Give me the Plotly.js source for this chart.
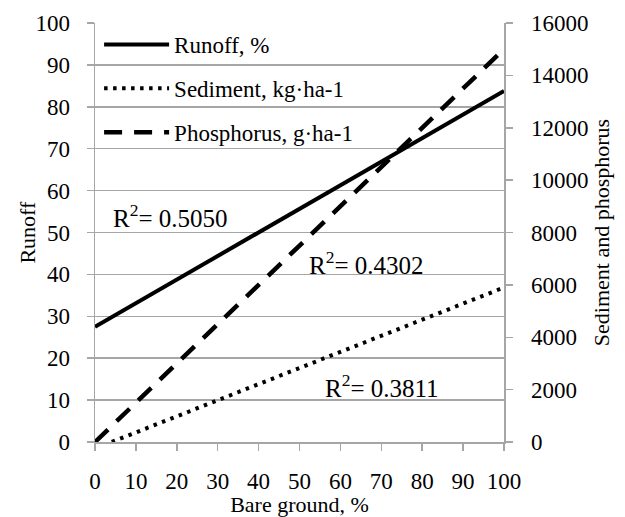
<!DOCTYPE html>
<html>
<head>
<meta charset="utf-8">
<script src="https://cdn.plot.ly/plotly-3.0.1.min.js"></script>
<style>html,body{margin:0;padding:0;background:#fff;}#chart{width:625px;height:517px;}</style>
</head>
<body>
<div id="chart"></div>
<script>
// Data (fitted trend lines, endpoints)
const bareGround = [0, 100];
const runoff = [27.5, 83.8];            // % (left axis)
const sediment = [-250, 5900];          // kg·ha-1 (right axis)
const phosphorus = [0, 15000];          // g·ha-1 (right axis)
const seriesNames = ["Runoff, %", "Sediment, kg·ha-1", "Phosphorus, g·ha-1"];
const r2Labels = ["0.5050", "0.4302", "0.3811"];
const r2Pos = [[18.5, 54], [66.5, 42.7], [70.2, 13.4]];

const FONT = "Liberation Serif, serif";
const GRID = "#a6a6a6";

const traces = [
  {x: bareGround, y: runoff, name: seriesNames[0], mode: "lines", yaxis: "y",
   line: {color: "#000", width: 4}, legendgroup: "a"},
  {x: bareGround, y: sediment, name: seriesNames[1], mode: "lines", yaxis: "y2",
   line: {color: "#000", width: 4, dash: "3.5px,5.5px"}, legendgroup: "b"},
  {x: bareGround, y: phosphorus, name: seriesNames[2], mode: "lines", yaxis: "y2",
   line: {color: "#000", width: 4.5, dash: "18px,12px"}, legendgroup: "c"}
];

const annotations = r2Labels.map((t, i) => ({
  x: r2Pos[i][0], y: r2Pos[i][1], xref: "x", yref: "y",
  text: "R<sup>2</sup>= " + t, showarrow: false,
  font: {family: FONT, size: 25, color: "#000"}
}));
// left axis title, placed in paper coordinates
annotations.push({
  x: -0.166, y: 0.5, xref: "paper", yref: "paper", xanchor: "center", yanchor: "middle",
  text: "Runoff", textangle: -90, showarrow: false,
  font: {family: FONT, size: 22, color: "#000"}
});

const tickFont = {family: FONT, size: 23, color: "#000"};

const layout = {
  width: 625, height: 517,
  margin: {l: 95, r: 121, t: 23, b: 75, pad: 0},
  paper_bgcolor: "#fff", plot_bgcolor: "#fff",
  font: {family: FONT, size: 22, color: "#000"},
  showlegend: true,
  legend: {x: 0.01, y: 1.0, xanchor: "left", yanchor: "top",
           bgcolor: "rgba(0,0,0,0)", font: {family: FONT, size: 23, color: "#000"},
           itemwidth: 65, tracegroupgap: 11, traceorder: "grouped"},
  xaxis: {range: [0, 100], dtick: 10, tick0: 0, showgrid: false, zeroline: false,
          showline: true, linecolor: GRID, linewidth: 1.5, ticks: "outside", ticklen: 7,
          tickcolor: GRID, tickwidth: 1.5, ticklabelstandoff: 11, tickfont: tickFont,
          title: {text: "Bare ground, %", font: {family: FONT, size: 22, color: "#000"}, standoff: 7},
          fixedrange: true},
  yaxis: {range: [0, 100], dtick: 10, tick0: 0, showgrid: true, gridcolor: GRID, gridwidth: 1.5,
          zeroline: false, showline: true, linecolor: GRID, linewidth: 1.5,
          ticks: "outside", ticklen: 7, tickcolor: GRID, tickwidth: 1.5, ticklabelstandoff: 12,
          tickfont: tickFont},
  yaxis2: {range: [0, 16000], dtick: 2000, tick0: 0, overlaying: "y", side: "right",
           tickformat: "d", exponentformat: "none",
           showgrid: false, zeroline: false, showline: true, linecolor: GRID, linewidth: 1.5,
           ticks: "outside", ticklen: 7, tickcolor: GRID, tickwidth: 1.5, ticklabelstandoff: 14,
           tickfont: tickFont,
           title: {text: "Sediment and phosphorus", font: {family: FONT, size: 22, color: "#000"}, standoff: 6}},
  annotations: annotations
};

Plotly.newPlot("chart", traces, layout, {staticPlot: true, displayModeBar: false});
</script>
</body>
</html>
